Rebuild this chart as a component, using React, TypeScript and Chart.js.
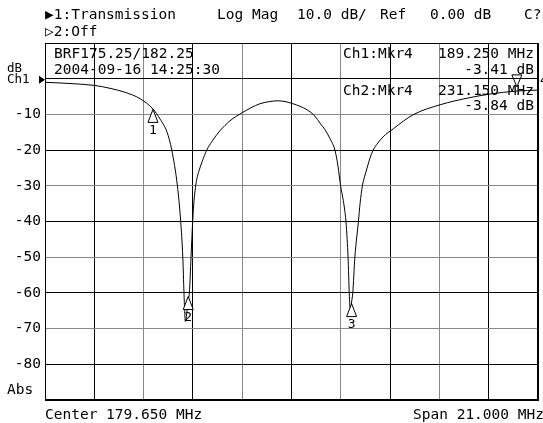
import { useEffect, useRef } from "react";
import { Chart, registerables } from "chart.js";
Chart.register(...registerables);

// Sweep definition
const centerMHz = 179.65;
const spanMHz = 21.0;
const startMHz = centerMHz - spanMHz / 2;
const stopMHz = centerMHz + spanMHz / 2;
const divisions = 10;
const refLevelDb = 0;

// Trace (frequency in MHz, transmission in dB)
const freqMHz = [
  169.15, 170.34, 171.28, 171.92, 172.56, 173.2, 173.75, 174.05, 174.35, 174.55,
  174.79, 174.93, 175.02, 175.07, 175.13, 175.25, 175.3, 175.37, 175.44, 175.5,
  175.56, 175.62, 175.71, 175.84, 176.04, 176.26, 176.6, 177.03, 177.53, 178.31,
  178.73, 179.03, 179.29, 179.71, 180.31, 180.65, 180.86, 181.08, 181.29, 181.5,
  181.63, 181.74, 181.84, 181.91, 181.97, 182.02, 182.06, 182.11, 182.16, 182.21,
  182.26, 182.35, 182.5, 182.57, 182.67, 182.76, 182.87, 182.99, 183.13, 183.33,
  183.55, 183.99, 184.83, 185.98, 187.25, 188.11, 189.26, 190.15,
];
const transmissionDb = [
  -1.0, -1.4, -1.9, -2.7, -3.8, -5.6, -8.5, -11.3, -15.0, -20.0,
  -30.0, -40.0, -50.0, -60.0, -68.0, -62.0, -60.0, -50.0, -40.0, -34.0,
  -30.5, -28.0, -25.8, -23.3, -20.0, -17.6, -14.6, -11.8, -9.6, -7.0,
  -6.4, -6.2, -6.3, -7.0, -8.7, -10.5, -12.4, -14.3, -16.8, -20.0,
  -24.5, -30.0, -33.5, -36.5, -40.0, -45.0, -50.0, -60.0, -65.0, -62.5,
  -60.0, -50.0, -40.0, -35.0, -30.0, -27.5, -25.0, -22.3, -20.0, -18.0,
  -16.3, -14.0, -10.1, -7.3, -5.3, -4.3, -3.45, -3.2,
];

// Markers
const markerFreqs = [173.75, 175.25, 182.21];
const markerDb = [-8.6, -61.0, -63.0];
const markerLabels = ["1", "2", "3"];
const activeMarkerFreq = 189.25;
const activeMarkerDb = -3.41;
const activeMarkerLabel = "4";

// Y axis
const yMin = -90;
const yMax = 10;
const yStep = 10;
const yLabelValues = [-10, -20, -30, -40, -50, -60, -70, -80];

// Texts
const headerLine1 = [
  { t: "\u25B61:Transmission", x: 45 },
  { t: "Log Mag", x: 217 },
  { t: "10.0 dB/", x: 297 },
  { t: "Ref", x: 380 },
  { t: "0.00 dB", x: 430 },
  { t: "C?", x: 524 },
];
const headerLine2 = "\u25B72:Off";
const infoLines = ["BRF175.25/182.25", "2004-09-16 14:25:30"];
const mkrCh1 = ["Ch1:Mkr4", "189.250 MHz", "-3.41 dB"];
const mkrCh2 = ["Ch2:Mkr4", "231.150 MHz", "-3.84 dB"];
const footerLeft = "Center 179.650 MHz";
const footerRight = "Span 21.000 MHz";

const MONO = '"DejaVu Sans Mono", "Liberation Mono", monospace';

export default function App() {
  const ref = useRef<HTMLCanvasElement | null>(null);

  useEffect(() => {
    document.body.style.margin = "0";
    const canvas = ref.current;
    if (!canvas) return;

    const overlay = {
      id: "vnaOverlay",
      afterDatasetsDraw(chart: any) {
        const ctx = chart.ctx as CanvasRenderingContext2D;
        const { left, right, top, bottom } = chart.chartArea;
        const xs = chart.scales.x;
        const ys = chart.scales.y;
        ctx.save();
        ctx.fillStyle = "#000";
        ctx.strokeStyle = "#000";
        ctx.lineWidth = 1;
        ctx.textBaseline = "middle";

        // Outer frame
        ctx.strokeRect(Math.round(left) + 0.5, Math.round(top) + 0.5, Math.round(right - left) - 1, Math.round(bottom - top) - 1);

        ctx.font = "14.5px " + MONO;
        ctx.textAlign = "left";
        headerLine1.forEach((h) => ctx.fillText(h.t, h.x, 15));
        ctx.fillText(headerLine2, 45, 32);

        // in-grid info
        ctx.fillText(infoLines[0], 54, 54);
        ctx.fillText(infoLines[1], 54, 70);
        ctx.fillText(mkrCh1[0], 343, 54);
        ctx.fillText(mkrCh2[0], 343, 91);
        ctx.textAlign = "right";
        ctx.fillText(mkrCh1[1], 534, 54);
        ctx.fillText(mkrCh1[2], 534, 70);
        ctx.fillText(mkrCh2[1], 534, 91);
        ctx.fillText(mkrCh2[2], 534, 106);

        // left side labels
        ctx.textAlign = "left";
        ctx.font = "12.5px " + MONO;
        ctx.fillText("dB", 7, 69);
        ctx.fillText("Ch1", 7, 80);
        ctx.font = "14.5px " + MONO;
        ctx.fillText("Abs", 7, 390);

        // reference arrow
        const y0 = ys.getPixelForValue(refLevelDb) + 1;
        ctx.beginPath();
        ctx.moveTo(left, y0);
        ctx.lineTo(left - 6, y0 - 4);
        ctx.lineTo(left - 6, y0 + 4);
        ctx.closePath();
        ctx.fill();

        // footer
        ctx.fillText(footerLeft, 45, 415);
        ctx.fillText(footerRight, 413, 415);

        // markers
        ctx.font = "13px " + MONO;
        ctx.textAlign = "center";
        markerFreqs.forEach((f, i) => {
          const px = xs.getPixelForValue(f);
          const py = ys.getPixelForValue(markerDb[i]);
          ctx.beginPath();
          ctx.moveTo(px, py);
          ctx.lineTo(px - 5, py + 13);
          ctx.lineTo(px + 5, py + 13);
          ctx.closePath();
          ctx.fillStyle = "#fff";
          ctx.fill();
          ctx.stroke();
          ctx.fillStyle = "#000";
          ctx.fillText(markerLabels[i], px, py + 21);
        });
        {
          const px = xs.getPixelForValue(activeMarkerFreq);
          const py = ys.getPixelForValue(activeMarkerDb) - 4;
          ctx.beginPath();
          ctx.moveTo(px, py);
          ctx.lineTo(px - 5, py - 12);
          ctx.lineTo(px + 5, py - 12);
          ctx.closePath();
          ctx.stroke();
          ctx.textAlign = "left";
          ctx.fillText(activeMarkerLabel, right + 2, py - 6);
        }
        ctx.restore();
      },
    };

    const chart = new Chart(canvas, {
      type: "line",
      data: {
        datasets: [
          {
            label: "Transmission",
            data: freqMHz.map((f, i) => ({ x: f, y: transmissionDb[i] })),
            borderColor: "#000",
            borderWidth: 1,
            pointRadius: 0,
            fill: false,
            cubicInterpolationMode: "monotone",
          },
        ],
      },
      options: {
        responsive: false,
        animation: false,
        devicePixelRatio: 1,
        layout: { padding: { left: 0, top: 43, right: 5, bottom: 23 } },
        plugins: { legend: { display: false }, tooltip: { enabled: false } },
        scales: {
          x: {
            type: "linear",
            min: startMHz,
            max: stopMHz,
            afterBuildTicks: (s: any) => {
              const ticks = [];
              for (let i = 0; i <= divisions; i++) ticks.push({ value: startMHz + (i * spanMHz) / divisions });
              s.ticks = ticks;
            },
            afterFit: (s: any) => {
              s.height = 0;
            },
            ticks: { display: false },
            grid: {
              drawTicks: false,
              color: (c: any) => (c.index % 2 === 1 || c.index === 0 || c.index === divisions ? "#000" : "#888"),
            },
            border: { display: true, color: "#000" },
          },
          y: {
            type: "linear",
            min: yMin,
            max: yMax,
            afterFit: (s: any) => {
              s.width = 45;
            },
            ticks: {
              stepSize: yStep,
              padding: 4,
              color: "#000",
              font: { family: MONO, size: 14.5 },
              callback: (v: any) => (yLabelValues.includes(Number(v)) ? String(v) : ""),
            },
            grid: {
              drawTicks: false,
              color: (c: any) => {
                const v = c.tick ? c.tick.value : 0;
                return v % 20 === 0 || v === yMax || v === yMin ? "#000" : "#888";
              },
            },
            border: { display: true, color: "#000" },
          },
        },
      },
      plugins: [overlay],
    } as any);

    return () => chart.destroy();
  }, []);

  return <canvas ref={ref} width={543} height={423} style={{ display: "block" }} />;
}
